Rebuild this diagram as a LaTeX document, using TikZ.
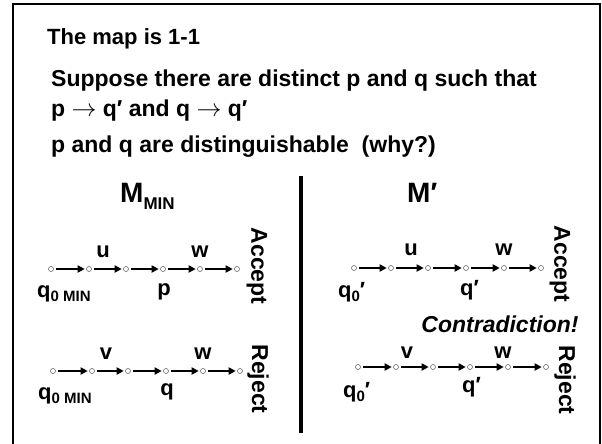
\documentclass[tikz,border=0pt]{standalone}
\usepackage{fontspec}
\setmainfont{Liberation Sans}
\usetikzlibrary{arrows.meta}
\newcommand{\fsz}[1]{\fontsize{#1}{#1}\selectfont}
\newcommand{\subl}[1]{\raisebox{-4pt}{\fsz{15}#1}}
\begin{document}
\begin{tikzpicture}[x=1pt,y=-1pt,
  txt/.style={anchor=base west,inner sep=0pt,font=\bfseries\fsz{23}},
  lbl/.style={anchor=base,inner sep=0pt,font=\bfseries\fsz{22}},
  rot/.style={inner sep=0pt,rotate=-90,font=\bfseries\fsz{23}},
  st/.style={circle,draw=gray!80!black,line width=0.6pt,inner sep=0pt,minimum size=5pt},
  arr/.style={line width=2.2pt,-{Triangle[length=7pt,width=7pt]},shorten <=2.5pt,shorten >=1.5pt}]
\useasboundingbox (0,0) rectangle (602,444);
\draw[line width=2.4pt] (13,460) -- (13,4) -- (600,4) -- (600,460);
\node[txt,font=\bfseries\fsz{22}] (t1) at (47,45) {The map is 1-1};
\node[txt] (t2) at (51,86) {Suppose there are distinct p and q such that};
\node[txt] (t3) at (51,116) {p $\rightarrow$ q′ and q $\rightarrow$ q′};
\node[txt] (t4) at (51,152) {p and q are distinguishable\ \ (why?)};
\node[anchor=base west,inner sep=0pt,font=\bfseries\fsz{28}] (mmin) at (120,202) {M\raisebox{-7pt}{\fsz{17}MIN}};
\node[anchor=base west,inner sep=0pt,font=\bfseries\fsz{28}] (mp) at (407,202) {M′};
\draw[line width=4pt] (301,176) coordinate (d1) -- (301,433) coordinate (d2);
% left chain 1
\foreach \i/\x in {1/51,2/89,3/126,4/163,5/200,6/237} \node[st] (a\i) at (\x,269) {};
\foreach \i/\j in {1/2,2/3,3/4,4/5,5/6} \draw[arr] (a\i) -- (a\j);
\node[lbl] (la-u) at (103,257) {u};
\node[lbl] (la-w) at (200,257) {w};
\node[lbl] (la-p) at (164,295) {p};
\node[anchor=base west,inner sep=0pt,font=\bfseries\fsz{22}] (la-q0) at (37,297) {q\subl{0 MIN}};
\node[rot] (acc1) at (257,266) {Accept};
% left chain 2
\foreach \i/\x in {1/53,2/92,3/128,4/166,5/203,6/240} \node[st] (b\i) at (\x,371) {};
\foreach \i/\j in {1/2,2/3,3/4,4/5,5/6} \draw[arr] (b\i) -- (b\j);
\node[lbl] (lb-v) at (106,359) {v};
\node[lbl] (lb-w) at (203,359) {w};
\node[lbl] (lb-q) at (167,395) {q};
\node[anchor=base west,inner sep=0pt,font=\bfseries\fsz{22}] (lb-q0) at (38,399) {q\subl{0 MIN}};
\node[rot] (rej1) at (258,379) {Reject};
% right chain 1
\foreach \i/\x in {1/354,2/391,3/428,4/466,5/504,6/541} \node[st] (c\i) at (\x,268) {};
\foreach \i/\j in {1/2,2/3,3/4,4/5,5/6} \draw[arr] (c\i) -- (c\j);
\node[lbl] (lc-u) at (411,255) {u};
\node[lbl] (lc-w) at (504,255) {w};
\node[anchor=base west,inner sep=0pt,font=\bfseries\fsz{22}] (lc-q) at (460,295) {q′};
\node[anchor=base west,inner sep=0pt,font=\bfseries\fsz{22}] (lc-q0) at (338,297) {q\subl{0}′};
\node[rot] (acc2) at (560,264) {Accept};
\node[anchor=base,inner sep=0pt,font=\bfseries\itshape\fsz{23}] (contra) at (500,332) {Contradiction!};
% right chain 2
\foreach \i/\x in {1/358,2/396,3/433,4/470,5/508,6/546} \node[st] (e\i) at (\x,367) {};
\foreach \i/\j in {1/2,2/3,3/4,4/5,5/6} \draw[arr] (e\i) -- (e\j);
\node[lbl] (le-v) at (407,358) {v};
\node[lbl] (le-w) at (503,358) {w};
\node[anchor=base west,inner sep=0pt,font=\bfseries\fsz{22}] (le-q) at (462,392) {q′};
\node[anchor=base west,inner sep=0pt,font=\bfseries\fsz{22}] (le-q0) at (343,397) {q\subl{0}′};
\node[rot] (rej2) at (565,380) {Reject};
\end{tikzpicture}
\end{document}
